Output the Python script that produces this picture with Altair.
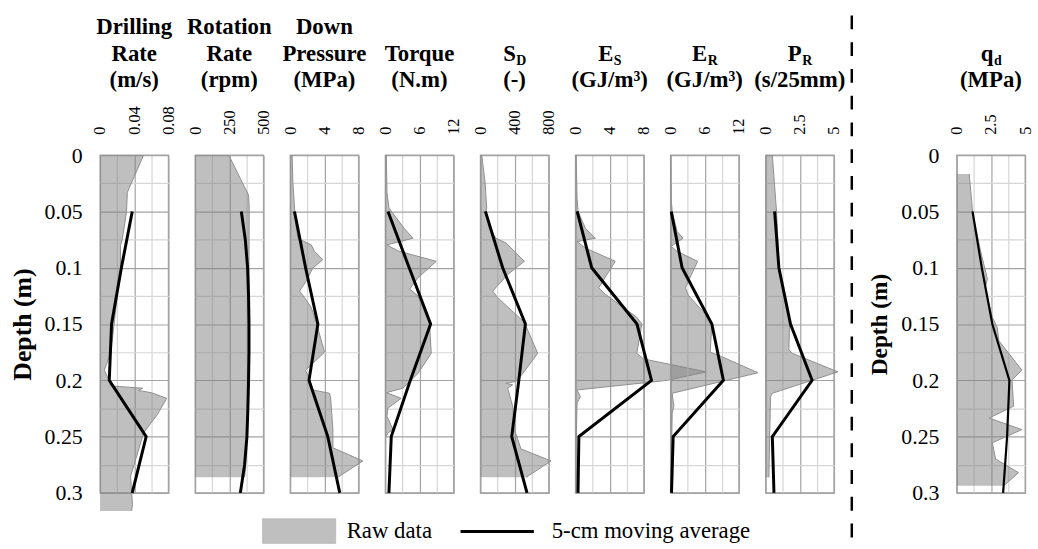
import altair as alt
import pandas as pd

# ---------------- data ----------------
ma_depth = [0.05, 0.10, 0.15, 0.20, 0.25, 0.30]

drill_raw_depth = [0.0, 0.033, 0.05, 0.065, 0.075, 0.08, 0.1, 0.125, 0.15, 0.175, 0.191, 0.197, 0.2,
                   0.205, 0.207, 0.209, 0.211, 0.216, 0.23, 0.2467, 0.261, 0.285, 0.3, 0.31, 0.316]
drill_raw_val = [0.051, 0.032, 0.031, 0.028, 0.026, 0.024, 0.024, 0.020, 0.0165, 0.0127, 0.005, 0.0088, 0.011,
                 0.012, 0.05, 0.045, 0.06, 0.078, 0.0675, 0.051, 0.0454, 0.0358, 0.037, 0.038, 0.037]
drill_ma = [0.0377, 0.025, 0.0135, 0.0108, 0.054, 0.0377]

rot_raw_depth = [0.0, 0.0355, 0.047, 0.1, 0.15, 0.2, 0.25, 0.28, 0.286]
rot_raw_val = [246, 391, 396, 394, 394, 391, 379, 367, 362]
rot_ma_depth = [0.05, 0.075, 0.1, 0.125, 0.15, 0.175, 0.2, 0.225, 0.25, 0.275, 0.3]
rot_ma = [338, 367, 384, 391, 394, 394, 391, 386, 379, 362, 331]

dp_raw_depth = [0.0, 0.024, 0.047, 0.059, 0.074, 0.0797, 0.0855, 0.0929, 0.1002, 0.112, 0.1207, 0.1266,
                0.1353, 0.1485, 0.175, 0.191, 0.1998, 0.2086, 0.2115, 0.2145, 0.2438, 0.26, 0.2716, 0.2862]
dp_raw_val = [0.23, 0.31, 0.51, 0.62, 0.9, 2.46, 2.85, 3.82, 2.65, 1.87, 1.09, 1.68,
              2.46, 3.04, 4.02, 1.8, 2.26, 2.65, 4.6, 4.72, 5.0, 5.0, 8.5, 5.58]
dp_ma = [0.5, 1.8, 3.24, 2.2, 4.4, 5.8]

tq_raw_depth = [0.0, 0.033, 0.047, 0.065, 0.0738, 0.0797, 0.085, 0.0943, 0.109, 0.119, 0.125, 0.15,
                0.176, 0.194, 0.207, 0.211, 0.216, 0.2247, 0.232, 0.2438, 0.2467, 0.25]
tq_raw_val = [0.18, 0.29, 0.64, 3.3, 4.86, 0.29, 2.2, 8.95, 5.73, 4.27, 5.73, 7.78,
              8.07, 5.73, 3.1, 0.18, 2.8, 0.47, 0.29, 1.35, 0.47, 0.15]
tq_ma = [0.47, 4.2, 7.96, 4.4, 1.05, 0.64]

sd_raw_depth = [0.0, 0.024, 0.047, 0.05, 0.065, 0.0738, 0.078, 0.0943, 0.106, 0.1207, 0.1266, 0.1485,
                0.176, 0.194, 0.201, 0.2027, 0.204, 0.207, 0.223, 0.2438, 0.261, 0.2716, 0.2862]
sd_raw_val = [16, 55, 74, 66, 105, 183, 300, 515, 320, 144, 203, 515,
              671, 496, 418, 300, 378, 320, 378, 398, 476, 827, 535]
sd_ma = [59, 261, 527, 450, 367, 546]

es_raw_depth = [0.0, 0.039, 0.05, 0.065, 0.0738, 0.0768, 0.0826, 0.0943, 0.1178, 0.1236, 0.144, 0.15,
                0.176, 0.181, 0.1925, 0.2, 0.2086, 0.2145, 0.22, 0.25, 0.3]
es_raw_val = [0.08, 0.19, 0.3, 1.17, 2.33, 0.19, 1.17, 4.66, 2.72, 3.5, 7.18, 7.77,
              7.18, 7.96, 15.3, 10.8, 0.19, 0.58, 0.19, 0.1, 0.1]
es_ma = [0.2, 1.9, 7.2, 8.9, 0.4, 0.3]

er_raw_depth = [0.0, 0.039, 0.05, 0.068, 0.0738, 0.081, 0.0855, 0.0943, 0.1178, 0.125, 0.141, 0.15,
                0.175, 0.179, 0.1933, 0.2115, 0.223, 0.229, 0.26, 0.3]
er_raw_val = [0.05, 0.12, 0.29, 1.16, 2.2, 0.12, 1.16, 4.75, 2.6, 3.2, 6.1, 7.25,
              6.96, 9.0, 15.36, 0.29, 0.58, 0.29, 0.2, 0.1]
er_ma = [0.12, 2.03, 7.25, 9.28, 0.46, 0.17]

pr_raw_depth = [0.0, 0.039, 0.05, 0.077, 0.1, 0.125, 0.144, 0.15, 0.173, 0.176, 0.1925, 0.2115,
                0.2145, 0.253, 0.2862]
pr_raw_val = [0.49, 0.73, 0.8, 0.9, 0.97, 1.33, 1.7, 1.75, 1.7, 1.94, 5.29, 0.49,
              0.36, 0.29, 0.24]
pr_ma = [0.66, 0.97, 1.82, 3.4, 0.49, 0.61]

qd_raw_depth = [0.0167, 0.0328, 0.05, 0.0856, 0.11, 0.118, 0.144, 0.153, 0.165, 0.176, 0.191, 0.1998,
                0.223, 0.2335, 0.2438, 0.2555, 0.27, 0.282, 0.2936]
qd_raw_val = [0.91, 1.03, 1.15, 1.75, 2.24, 2.07, 2.6, 2.96, 3.08, 3.8, 4.76, 4.04,
              4.16, 2.36, 4.76, 2.6, 2.84, 4.52, 3.44]
qd_ma = [1.15, 1.83, 2.6, 3.85, 3.68, 3.39]

depth_ticks = [round(i * 0.025, 3) for i in range(13)]
depth_labels = [round(i * 0.05, 2) for i in range(7)]

# ---------------- style ----------------
FONT = "Liberation Serif"
W, H = 69, 341
DARK_GRID = "#a3a3a3"
LIGHT_GRID = "#d6d6d6"
one = pd.DataFrame({"k": [0]})

# Times-bold-like advance widths (em) for subscript centring
EM = {"S": 0.556, "E": 0.667, "P": 0.611, "q": 0.556, "D": 0.722, "R": 0.722, "d": 0.556}


def text_layer(txt, x, y, size=23, bold=True, align="center"):
    return alt.Chart(one).mark_text(
        text=txt, font=FONT, fontSize=size, fontWeight="bold" if bold else "normal",
        align=align, baseline="alphabetic", color="black"
    ).encode(x=alt.value(x), y=alt.value(y))


def panel(raw_d, raw_v, ma_d, ma_v, xmax, lines, sym=None, show_y=False, ytitle_size=23.5,
          lw=3.0, extra=None):
    xvals = [0, xmax / 4, xmax / 2, 3 * xmax / 4, xmax]
    major = [0, xmax / 2, xmax]
    maj_js = "[" + ",".join(repr(v) for v in major) + "]"
    ymaj_js = "[" + ",".join(repr(v) for v in depth_labels) + "]"
    x_enc = alt.X(
        "value:Q",
        scale=alt.Scale(domain=[0, xmax], nice=False, zero=False),
        axis=alt.Axis(
            orient="top", values=xvals, title=None, ticks=False, domain=False,
            labelExpr=f"indexof({maj_js}, datum.value) >= 0 ? ('' + datum.value) : ''",
            labelAngle=270, labelAlign="left", labelBaseline="middle", labelPadding=21,
            labelFontSize=16.5, labelFlush=False, labelOverlap=False, labelFont=FONT,
            gridColor={"condition": {"test": f"indexof({maj_js}, datum.value) >= 0", "value": DARK_GRID},
                       "value": LIGHT_GRID},
            gridWidth=1.2,
        ),
    )
    y_axis = dict(
        values=depth_ticks, ticks=False, domain=False, labelFlush=False, labelOverlap=False,
        gridColor={"condition": {"test": f"indexof({ymaj_js}, datum.value) >= 0", "value": DARK_GRID},
                   "value": LIGHT_GRID},
        gridWidth=1.2,
    )
    if show_y:
        y_axis.update(labels=True, labelFontSize=22, labelPadding=18, labelFont=FONT,
                      labelExpr=f"indexof({ymaj_js}, datum.value) >= 0 ? ('' + datum.value) : ''",
                      title="Depth (m)", titleFont=FONT, titleFontSize=ytitle_size, titleFontWeight="bold",
                      titlePadding=9)
    else:
        y_axis.update(labels=False, title=None)
    y_enc = alt.Y("depth:Q", scale=alt.Scale(domain=[0, 0.3], reverse=True, nice=False, zero=False),
                  axis=alt.Axis(**y_axis))

    raw = pd.DataFrame({"depth": raw_d, "value": raw_v})
    ma = pd.DataFrame({"depth": ma_d, "value": ma_v})

    area = alt.Chart(raw).mark_area(orient="horizontal", color="#808080", opacity=0.5).encode(
        x=x_enc, y=y_enc)
    edge = alt.Chart(raw).mark_line(color="#8f8f8f", strokeWidth=1).encode(
        x=x_enc, y=y_enc, order="depth:Q")
    avg = alt.Chart(ma).mark_line(color="black", strokeWidth=lw).encode(
        x=x_enc, y=y_enc, order="depth:Q")

    layers = [area, edge, avg]
    c = W / 2
    base = [-69, -95.5, -122]
    for k, t in enumerate(reversed(lines)):
        layers.append(text_layer(t, c, base[k]))
    if sym:
        m, s = sym
        total = EM[m] * 23 + EM[s] * 14
        xr = c - total / 2 + EM[m] * 23
        layers.append(text_layer(m, xr, base[len(lines)], align="right"))
        layers.append(text_layer(s, xr + 0.5, base[len(lines)] + 4, size=14, align="left"))
    if extra:
        layers += extra
    return alt.layer(*layers).properties(width=W, height=H)


# dashed separator (drawn from panel 8)
dash = alt.Chart(one).mark_rule(color="black", strokeWidth=2.5, strokeDash=[14, 13]).encode(
    x=alt.value(87), y=alt.value(-141), y2=alt.value(392))

# legend (drawn from panel 3)
leg = [
    alt.Chart(one).mark_rect(color="#bfbfbf", stroke="#a8a8a8", strokeWidth=0.5).encode(
        x=alt.value(-28), x2=alt.value(46), y=alt.value(367), y2=alt.value(392)),
    alt.Chart(one).mark_text(text="Raw data", font=FONT, fontSize=23, align="left", baseline="middle",
                             color="black").encode(x=alt.value(57), y=alt.value(380)),
    alt.Chart(one).mark_rule(color="black", strokeWidth=3).encode(
        x=alt.value(172), x2=alt.value(246), y=alt.value(380)),
    alt.Chart(one).mark_text(text="5-cm moving average", font=FONT, fontSize=23, align="left",
                             baseline="middle", color="black").encode(x=alt.value(264), y=alt.value(380)),
]

p1 = panel(drill_raw_depth, drill_raw_val, ma_depth, drill_ma, 0.08, ["Drilling", "Rate", "(m/s)"],
           show_y=True, ytitle_size=26)
p2 = panel(rot_raw_depth, rot_raw_val, rot_ma_depth, rot_ma, 500, ["Rotation", "Rate", "(rpm)"])
p3 = panel(dp_raw_depth, dp_raw_val, ma_depth, dp_ma, 8, ["Down", "Pressure", "(MPa)"], extra=leg)
p4 = panel(tq_raw_depth, tq_raw_val, ma_depth, tq_ma, 12, ["Torque", "(N.m)"])
p5 = panel(sd_raw_depth, sd_raw_val, ma_depth, sd_ma, 800, ["(-)"], sym=("S", "D"))
p6 = panel(es_raw_depth, es_raw_val, ma_depth, es_ma, 8, ["(GJ/m³)"], sym=("E", "S"))
p7 = panel(er_raw_depth, er_raw_val, ma_depth, er_ma, 12, ["(GJ/m³)"], sym=("E", "R"))
p8 = panel(pr_raw_depth, pr_raw_val, ma_depth, pr_ma, 5, ["(s/25mm)"], sym=("P", "R"), extra=[dash])
p9 = panel(qd_raw_depth, qd_raw_val, ma_depth, qd_ma, 5, ["(MPa)"], sym=("q", "d"), show_y=True,
           ytitle_size=23.5, lw=2.2)

spacer = alt.Chart(one).mark_point(opacity=0).encode(x=alt.value(0), y=alt.value(0)).properties(
    width=70, height=H, view=alt.ViewBackground(stroke="transparent"))

chart = alt.hconcat(p1, p2, p3, p4, p5, p6, p7, p8, spacer, p9, spacing=27, bounds="flush").properties(
    padding={"left": 8, "top": 11, "right": 3, "bottom": 0}
).configure_view(stroke="#a3a3a3", strokeWidth=1.4).configure_axis(
    labelFont=FONT, titleFont=FONT, labelColor="black", titleColor="black"
)

chart.save("out.html", embed_options={"renderer": "svg", "actions": False})
